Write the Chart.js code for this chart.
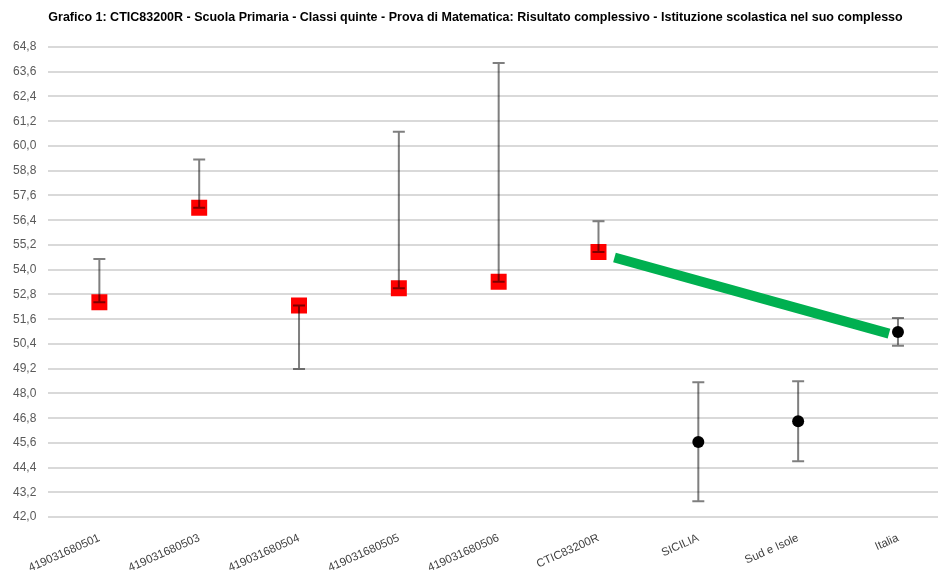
<!DOCTYPE html>
<html>
<head>
<meta charset="utf-8">
<script src="https://cdn.jsdelivr.net/npm/chart.js@4.4.1/dist/chart.umd.min.js"></script>
<style>
  html, body { margin: 0; padding: 0; background: #fff; }
  canvas { display: block; }
</style>
</head>
<body>
<canvas id="chart" width="940" height="581"></canvas>
<script>
// --- DATI ---
const TITLE = 'Grafico 1: CTIC83200R - Scuola Primaria - Classi quinte - Prova di Matematica: Risultato complessivo - Istituzione scolastica nel suo complesso';
const categories = ['419031680501', '419031680503', '419031680504', '419031680505', '419031680506', 'CTIC83200R', 'SICILIA', 'Sud e Isole', 'Italia'];
const scoreValues = [52.42, 57.01, 52.27, 53.10, 53.42, 54.86, 45.65, 46.65, 50.98];
const errHigh = [54.52, 59.34, 52.27, 60.69, 64.02, 56.35, 48.54, 48.59, 51.66];
const errLow = [52.42, 57.01, 49.19, 53.10, 53.42, 54.86, 42.77, 44.71, 50.31];
const isSchool = [true, true, true, true, true, true, false, false, false];
// freccia verde (confronto scuola -> Italia), posizioni in unità di categoria
const arrowX = [5.16, 7.91];
const arrowY = [54.59, 50.90];
const yTicks = [42.0, 43.2, 44.4, 45.6, 46.8, 48.0, 49.2, 50.4, 51.6, 52.8, 54.0, 55.2, 56.4, 57.6, 58.8, 60.0, 61.2, 62.4, 63.6, 64.8];

// --- PLUGIN BARRE D'ERRORE ---
const errorBarsPlugin = {
    id: 'errorBars',
    afterDatasetsDraw(chart) {
        const { ctx, scales: { x, y } } = chart;
        ctx.save();
        ctx.strokeStyle = 'rgba(0,0,0,0.5)';
        ctx.lineWidth = 2;
        categories.forEach((c, i) => {
            const px = x.getPixelForValue(i);
            const yTop = y.getPixelForValue(errHigh[i]);
            const yBot = y.getPixelForValue(errLow[i]);
            ctx.beginPath();
            ctx.moveTo(px, yTop); ctx.lineTo(px, yBot);
            ctx.moveTo(px - 6, yTop); ctx.lineTo(px + 6, yTop);
            ctx.moveTo(px - 6, yBot); ctx.lineTo(px + 6, yBot);
            ctx.stroke();
        });
        ctx.restore();
    }
};

const schoolPts = [], refPts = [];
scoreValues.forEach((v, i) => (isSchool[i] ? schoolPts : refPts).push({ x: i, y: v }));

new Chart(document.getElementById('chart'), {
    type: 'scatter',
    data: {
        datasets: [
            { data: arrowX.map((v, i) => ({ x: v, y: arrowY[i] })), showLine: true, borderColor: '#00B050', borderWidth: 10, borderCapStyle: 'butt', pointRadius: 0, order: 3 },
            { data: schoolPts, pointStyle: 'rect', pointRadius: 11.3, backgroundColor: '#FF0000', borderColor: '#FF0000', borderWidth: 0, order: 2 },
            { data: refPts, pointStyle: 'circle', pointRadius: 6, backgroundColor: '#000', borderColor: '#000', borderWidth: 0, order: 1 }
        ]
    },
    options: {
        responsive: false,
        animation: false,
        layout: { autoPadding: false, padding: { left: 13, right: 2, top: 0, bottom: 0 } },
        plugins: {
            legend: { display: false },
            tooltip: { enabled: false },
            title: {
                display: true, text: TITLE, color: '#000',
                font: { family: 'Liberation Sans, Arial', size: 12.5, weight: 'bold' },
                padding: { top: 10, bottom: 22 }
            }
        },
        scales: {
            x: {
                type: 'linear', min: -0.511, max: 8.401,
                afterBuildTicks: s => { s.ticks = categories.map((c, i) => ({ value: i })); },
                afterFit: s => { s.paddingLeft = 0; s.paddingRight = 0; },
                ticks: {
                    autoSkip: false, minRotation: 24, maxRotation: 24, padding: 6,
                    color: '#404040', font: { family: 'Liberation Sans, Arial', size: 11.5 },
                    callback: v => categories[v]
                },
                grid: { display: false },
                border: { display: false }
            },
            y: {
                min: 42.0, max: 64.8,
                afterBuildTicks: s => { s.ticks = yTicks.map(v => ({ value: v })); },
                afterFit: s => { s.width -= 12; },
                ticks: {
                    padding: 12, color: '#595959',
                    font: { family: 'Liberation Sans, Arial', size: 12 },
                    callback: v => v.toFixed(1).replace('.', ',')
                },
                grid: { color: '#d9d9d9', lineWidth: 2, drawTicks: false },
                border: { display: false }
            }
        }
    },
    plugins: [errorBarsPlugin]
});
</script>
</body>
</html>
